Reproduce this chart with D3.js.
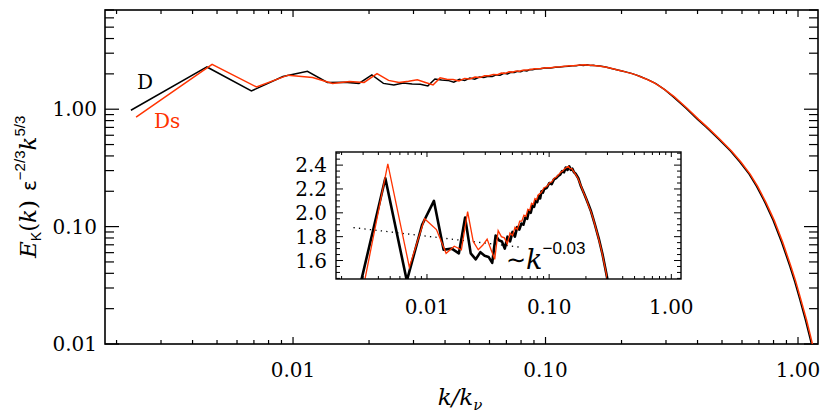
<!DOCTYPE html>
<html><head><meta charset="utf-8">
<script src="https://cdn.jsdelivr.net/npm/d3@7"></script>
<style>body{margin:0;background:#fff}</style>
</head><body><svg id="c" width="830" height="418"></svg>
<script>
// ---- data ----
const kD = [0.00228,0.00456,0.00684,0.00912,0.0114,0.01368,0.01596,0.01824,0.02052,0.0228,
  0.02508,0.02736,0.02964,0.03192,0.0342,0.03648,0.03876,0.04104,0.04332,0.0456,
  0.04788,0.05016,0.05244,0.05472,0.057,0.05928,0.06156,0.06384,0.06612,0.0684,
  0.07068,0.07296,0.07524,0.07752,0.0798,0.08208,0.08436,0.08664,0.08892,0.0912,
  0.09576,0.10032,0.10488,0.10944,0.114,0.11856,0.12312,0.12768,0.13224,0.1368,
  0.14136,0.14592,0.15048,0.15504,0.1596,0.16416,0.17328,0.1824,0.19152,0.20064,
  0.20976,0.21888,0.228,0.23712,0.25536,0.2736,0.2964,0.32,0.36,0.40,
  0.434,0.483,0.54,0.588,0.64,0.685,0.74,0.797,0.86,0.928,
  0.97,1.016,1.07,1.12,1.14];
const vD = [0.98,2.29,1.43,1.90,2.10,1.69,1.70,1.66,1.96,1.66,
  1.61,1.67,1.64,1.63,1.58,1.81,1.77,1.76,1.70,1.80,
  1.76,1.84,1.80,1.88,1.86,1.91,1.90,1.96,1.95,2.02,
  2.00,2.06,2.05,2.10,2.09,2.14,2.12,2.18,2.17,2.20,
  2.21,2.25,2.24,2.28,2.29,2.31,2.32,2.35,2.34,2.38,
  2.36,2.39,2.36,2.37,2.34,2.33,2.29,2.22,2.17,2.12,
  2.07,2.02,1.96,1.90,1.78,1.65,1.47,1.28,1.02,0.82,
  0.70,0.56,0.44,0.355,0.28,0.22,0.16,0.113,0.074,0.046,
  0.034,0.024,0.016,0.0108,0.0092];

const kDs = [0.00239,0.00478,0.00717,0.00956,0.01195,0.01434,0.01673,0.01912,0.02151,0.0239,
  0.02629,0.02868,0.03107,0.03346,0.03585,0.03824,0.04063,0.04302,0.04541,0.0478,
  0.05019,0.05258,0.05497,0.05736,0.05975,0.06214,0.06453,0.06692,0.06931,0.0717,
  0.07409,0.07648,0.07887,0.08126,0.08604,0.09082,0.0956,0.10038,0.10516,0.10994,
  0.11472,0.1195,0.12428,0.12906,0.13384,0.13862,0.1434,0.14818,0.15296,0.15774,
  0.16252,0.17208,0.18164,0.1912,0.20076,0.21032,0.21988,0.22944,0.24856,0.26768,
  0.2868,0.30114,0.323,0.3636,0.404,0.438,0.488,0.545,0.594,0.646,
  0.692,0.747,0.805,0.869,0.937,0.98,1.026,1.081,1.131,1.15];
const vDs = [0.855,2.41,1.545,1.95,1.86,1.66,1.72,1.69,2.01,1.76,
  1.69,1.73,1.78,1.69,1.61,1.85,1.80,1.79,1.74,1.83,
  1.81,1.88,1.86,1.93,1.93,1.98,1.97,2.03,2.02,2.08,
  2.07,2.12,2.11,2.15,2.17,2.21,2.22,2.25,2.26,2.29,
  2.30,2.32,2.34,2.35,2.37,2.38,2.39,2.37,2.37,2.35,
  2.33,2.29,2.23,2.17,2.12,2.06,2.01,1.95,1.82,1.69,
  1.54,1.43,1.28,1.02,0.82,0.70,0.56,0.44,0.355,0.28,
  0.22,0.16,0.113,0.074,0.046,0.034,0.024,0.016,0.0108,0.0092];

const fitK = [0.0025, 0.06];
const fitV = [1.876, 1.71];

const mainXTicks = [0.01, 0.1, 1], mainXLabels = ["0.01", "0.10", "1.00"];
const mainYTicks = [0.01, 0.1, 1], mainYLabels = ["0.01", "0.10", "1.00"];
const insetXTicks = [0.01, 0.1, 1], insetXLabels = ["0.01", "0.10", "1.00"];
const insetYTicks = [1.6, 1.8, 2.0, 2.2, 2.4], insetYLabels = ["1.6", "1.8", "2.0", "2.2", "2.4"];
const seriesNames = ["D", "Ds"];
const seriesColors = ["#000000", "#ff3300"];

// ---- drawing ----
const svg = d3.select("#c");
const SERIF = "DejaVu Serif", SANS = "Liberation Sans";

const M = {l: 105, r: 818, t: 10, b: 344};
const xM = d3.scaleLog().domain([0.0018, 1.2]).range([M.l, M.r]);
const yM = d3.scaleLog().domain([0.01, 7]).range([M.b, M.t]);

function isMajorLog(v){ const m = v / Math.pow(10, Math.floor(Math.log10(v)+1e-9)); return Math.abs(m-1) < 1e-6; }

// main frame
const gM = svg.append("g");
gM.append("rect").attr("x", M.l).attr("y", M.t).attr("width", M.r-M.l).attr("height", M.b-M.t)
  .attr("fill", "none").attr("stroke", "#000").attr("stroke-width", 1.6);

xM.ticks().forEach(v => {
  const x = xM(v), len = isMajorLog(v) ? 7 : 4;
  gM.append("line").attr("x1", x).attr("x2", x).attr("y1", M.b).attr("y2", M.b-len).attr("stroke", "#000").attr("stroke-width", 1.2);
  gM.append("line").attr("x1", x).attr("x2", x).attr("y1", M.t).attr("y2", M.t+len).attr("stroke", "#000").attr("stroke-width", 1.2);
});
yM.ticks().forEach(v => {
  const y = yM(v), len = isMajorLog(v) ? 14 : 9;
  gM.append("line").attr("x1", M.l).attr("x2", M.l+len).attr("y1", y).attr("y2", y).attr("stroke", "#000").attr("stroke-width", 1.2);
  gM.append("line").attr("x1", M.r).attr("x2", M.r-len).attr("y1", y).attr("y2", y).attr("stroke", "#000").attr("stroke-width", 1.2);
});
mainXTicks.forEach((v, i) => {
  gM.append("text").attr("x", xM(v)).attr("y", 377).attr("text-anchor", "middle")
    .attr("font-family", SERIF).attr("font-size", 20).text(mainXLabels[i]);
});
mainYTicks.forEach((v, i) => {
  gM.append("text").attr("x", 97).attr("y", yM(v)).attr("dy", "0.36em").attr("text-anchor", "end")
    .attr("font-family", SERIF).attr("font-size", 20).text(mainYLabels[i]);
});

// axis titles
const xt = svg.append("text").attr("x", 460).attr("y", 405).attr("text-anchor", "middle")
  .attr("font-family", SERIF).attr("font-size", 23).attr("font-style", "italic");
xt.append("tspan").text("k/k");
xt.append("tspan").attr("font-size", 15).attr("dy", 5).text("ν");

const yt = svg.append("text").attr("transform", "translate(36,258) rotate(-90)")
  .attr("font-family", SERIF).attr("font-size", 23);
yt.append("tspan").attr("font-style", "italic").text("E");
yt.append("tspan").attr("font-family", SANS).attr("font-size", 14).attr("dy", 5).text("K");
yt.append("tspan").attr("dy", -5).text("(");
yt.append("tspan").attr("font-style", "italic").text("k");
yt.append("tspan").text(")");
yt.append("tspan").attr("font-family", "DejaVu Sans").attr("font-size", 20).attr("dx", 9).text("ε");
yt.append("tspan").attr("font-family", SANS).attr("font-size", 15).attr("dy", -11).text("−2/3");
yt.append("tspan").attr("font-style", "italic").attr("dy", 11).text("k");
yt.append("tspan").attr("font-family", SANS).attr("font-size", 15).attr("dy", -11).text("5/3");

// main curves
const lineM = d3.line().x(d => xM(d[0])).y(d => yM(d[1]));
svg.append("clipPath").attr("id", "clipM").append("rect")
  .attr("x", M.l).attr("y", M.t).attr("width", M.r-M.l).attr("height", M.b-M.t);
const dD = kD.map((k, i) => [k, vD[i]]);
const dDs = kDs.map((k, i) => [k, vDs[i]]);
const gLines = svg.append("g").attr("clip-path", "url(#clipM)");
gLines.append("path").attr("d", lineM(dD)).attr("fill", "none").attr("stroke", seriesColors[0]).attr("stroke-width", 1.5);
gLines.append("path").attr("d", lineM(dDs)).attr("fill", "none").attr("stroke", seriesColors[1]).attr("stroke-width", 1.5);

// legend labels
svg.append("text").attr("x", 137).attr("y", 89).attr("font-family", SERIF).attr("font-size", 20)
  .attr("fill", seriesColors[0]).text(seriesNames[0]);
svg.append("text").attr("x", 154).attr("y", 128).attr("font-family", SERIF).attr("font-size", 20)
  .attr("fill", seriesColors[1]).text(seriesNames[1]);

// ---- inset ----
const I = {l: 336, r: 681, t: 152, b: 279};
const xI = d3.scaleLog().domain([0.0018, 1.2]).range([I.l, I.r]);
const yI = d3.scaleLinear().domain([1.445, 2.51]).range([I.b, I.t]);
const gI = svg.append("g");
gI.append("rect").attr("x", I.l).attr("y", I.t).attr("width", I.r-I.l).attr("height", I.b-I.t)
  .attr("fill", "#fff").attr("stroke", "none");
svg.append("clipPath").attr("id", "clipI").append("rect")
  .attr("x", I.l).attr("y", I.t).attr("width", I.r-I.l).attr("height", I.b-I.t);
const lineI = d3.line().x(d => xI(d[0])).y(d => yI(d[1]));
const gIL = gI.append("g").attr("clip-path", "url(#clipI)");
gIL.append("path").attr("d", lineI(fitK.map((k, i) => [k, fitV[i]])))
  .attr("fill", "none").attr("stroke", "#000").attr("stroke-width", 1.3).attr("stroke-dasharray", "1.3,4.2");
gIL.append("path").attr("d", lineI(dD)).attr("fill", "none").attr("stroke", seriesColors[0]).attr("stroke-width", 2.6).attr("stroke-linejoin", "round");
gIL.append("path").attr("d", lineI(dDs)).attr("fill", "none").attr("stroke", seriesColors[1]).attr("stroke-width", 1.3);

gI.append("rect").attr("x", I.l).attr("y", I.t).attr("width", I.r-I.l).attr("height", I.b-I.t)
  .attr("fill", "none").attr("stroke", "#000").attr("stroke-width", 1.4);
xI.ticks().forEach(v => {
  const x = xI(v), len = isMajorLog(v) ? 5 : 3;
  gI.append("line").attr("x1", x).attr("x2", x).attr("y1", I.b).attr("y2", I.b-len).attr("stroke", "#000").attr("stroke-width", 1);
  gI.append("line").attr("x1", x).attr("x2", x).attr("y1", I.t).attr("y2", I.t+len).attr("stroke", "#000").attr("stroke-width", 1);
});
d3.range(1.45, 2.5001, 0.05).forEach(v => {
  const y = yI(v);
  const major = insetYTicks.some(t => Math.abs(t - v) < 1e-6);
  const len = major ? 7 : 4;
  gI.append("line").attr("x1", I.l).attr("x2", I.l+len).attr("y1", y).attr("y2", y).attr("stroke", "#000").attr("stroke-width", 1);
  gI.append("line").attr("x1", I.r).attr("x2", I.r-len).attr("y1", y).attr("y2", y).attr("stroke", "#000").attr("stroke-width", 1);
});
insetXTicks.forEach((v, i) => {
  gI.append("text").attr("x", xI(v)).attr("y", 314).attr("text-anchor", "middle")
    .attr("font-family", SERIF).attr("font-size", 20).text(insetXLabels[i]);
});
insetYTicks.forEach((v, i) => {
  gI.append("text").attr("x", 327).attr("y", yI(v)).attr("dy", "0.36em").attr("text-anchor", "end")
    .attr("font-family", SERIF).attr("font-size", 20).text(insetYLabels[i]);
});
const lab = gI.append("text").attr("x", 506).attr("y", 269).attr("font-family", SERIF).attr("font-size", 27);
lab.append("tspan").attr("font-family", "DejaVu Sans").attr("font-size", 24).attr("dy", -1).text("∼");
lab.append("tspan").attr("font-style", "italic").attr("dy", 1).text("k");
lab.append("tspan").attr("font-family", SANS).attr("font-size", 17).attr("dy", -15).text("−0.03");
</script></body></html>
